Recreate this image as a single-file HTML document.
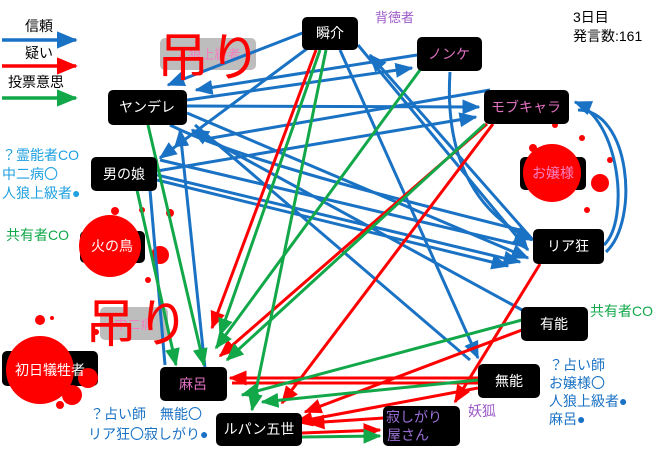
<!DOCTYPE html>
<html><head><meta charset="utf-8"><style>
body{margin:0;width:660px;height:452px;background:#fff;overflow:hidden;font-family:"Liberation Sans","Noto Sans CJK JP",sans-serif}
svg text{font-family:"Liberation Sans","Noto Sans CJK JP",sans-serif}
</style></head><body>
<svg width="660" height="452" viewBox="0 0 660 452" xmlns="http://www.w3.org/2000/svg">
<defs>
<marker id="b" markerWidth="6" markerHeight="5" refX="5.5" refY="2.5" orient="auto" markerUnits="strokeWidth"><path d="M0,0L6,2.5L0,5z" fill="#1a72c4"/></marker>
<marker id="r" markerWidth="6" markerHeight="5" refX="5.5" refY="2.5" orient="auto" markerUnits="strokeWidth"><path d="M0,0L6,2.5L0,5z" fill="#f00"/></marker>
<marker id="g" markerWidth="6" markerHeight="5" refX="5.5" refY="2.5" orient="auto" markerUnits="strokeWidth"><path d="M0,0L6,2.5L0,5z" fill="#12a84a"/></marker>
</defs>
<!-- legend -->
<text x="25" y="31" font-size="14" fill="#000">信頼</text>
<line x1="2" y1="40" x2="76" y2="40" stroke="#1a72c4" stroke-width="3.5" marker-end="url(#b)"/>
<text x="25" y="58" font-size="14" fill="#000">疑い</text>
<line x1="2" y1="66" x2="76" y2="66" stroke="#f00" stroke-width="3.5" marker-end="url(#r)"/>
<text x="8" y="87" font-size="14" fill="#000">投票意思</text>
<line x1="2" y1="98" x2="76" y2="98" stroke="#12a84a" stroke-width="3.5" marker-end="url(#g)"/>
<text x="573" y="22" font-size="14" fill="#000">3日目</text>
<text x="573" y="41" font-size="14" fill="#000">発言数:161</text>
<text x="375" y="22" font-size="13" fill="#9b59c6">背徳者</text>

<!-- hanged boxes -->
<rect x="160" y="38" width="96" height="32" rx="5" fill="#bdbdbd"/>
<text x="208" y="59" font-size="13" fill="#f47ec0" text-anchor="middle">人狼上級者</text>
<rect x="100" y="307" width="68" height="33" rx="5" fill="#bdbdbd"/>
<text x="134" y="329" font-size="13" fill="#f47ec0" text-anchor="middle">中二病</text>

<!-- blood -->
<g fill="#f00">
<circle cx="600" cy="183" r="9"/><circle cx="533" cy="148" r="4"/><circle cx="582" cy="138" r="3"/><circle cx="587" cy="210" r="3"/><circle cx="610" cy="160" r="3"/><circle cx="555" cy="125" r="3"/>
<circle cx="160" cy="255" r="9"/><circle cx="170" cy="213" r="4"/><circle cx="148" cy="280" r="3"/>
<circle cx="40" cy="320" r="5"/><circle cx="52" cy="318" r="2"/><circle cx="96" cy="332" r="3"/><circle cx="60" cy="405" r="4"/>
<circle cx="115" cy="211" r="4"/><circle cx="142" cy="210" r="3"/>
</g>

<g fill="none" stroke-width="3">
<!-- blue -->
<g stroke="#1a72c4">
<line x1="305" y1="32" x2="168" y2="85" marker-end="url(#b)"/>
<line x1="312" y1="45" x2="160" y2="158" marker-end="url(#b)"/>
<line x1="417" y1="55" x2="196" y2="90" marker-end="url(#b)"/>
<line x1="187" y1="106" x2="479" y2="107" marker-end="url(#b)"/>
<line x1="187" y1="100" x2="412" y2="68" marker-end="url(#b)"/>
<line x1="157" y1="171" x2="476" y2="117" marker-end="url(#b)"/>
<line x1="187" y1="113" x2="528" y2="258" marker-end="url(#b)"/>
<line x1="157" y1="175" x2="520" y2="262" marker-end="url(#b)"/>
<line x1="157" y1="180" x2="508" y2="266" marker-end="url(#b)"/>
<line x1="340" y1="50" x2="478" y2="358" marker-end="url(#b)"/>
<line x1="358" y1="45" x2="528" y2="250" marker-end="url(#b)"/>
<line x1="522" y1="310" x2="192" y2="130" marker-end="url(#b)"/>
<line x1="205" y1="368" x2="180" y2="130" marker-end="url(#b)"/>
<line x1="195" y1="125" x2="470" y2="360" />
<line x1="533" y1="240" x2="370" y2="55" marker-end="url(#b)"/>
<line x1="490" y1="90" x2="200" y2="140" />
<line x1="520" y1="245" x2="160" y2="160" />
<line x1="150" y1="190" x2="165" y2="365" />
<path d="M450,72 C445,150 470,210 532,240" marker-end="url(#b)"/>
<path d="M604,245 C630,220 620,120 575,102" marker-end="url(#b)"/>
<path d="M606,252 C640,220 630,110 578,110"/>
<path d="M170,125 C240,160 400,200 520,230"/>
</g>
<!-- red -->
<g stroke="#f00">
<line x1="316" y1="50" x2="212" y2="328" marker-end="url(#r)"/>
<line x1="487" y1="124" x2="220" y2="356" marker-end="url(#r)"/>
<line x1="493" y1="124" x2="282" y2="403" marker-end="url(#r)"/>
<line x1="540" y1="264" x2="455" y2="402" marker-end="url(#r)"/>
<line x1="522" y1="330" x2="305" y2="412" marker-end="url(#r)"/>
<line x1="478" y1="378" x2="230" y2="378" marker-end="url(#r)"/>
<line x1="478" y1="383" x2="232" y2="383" />
<line x1="478" y1="388" x2="296" y2="422" marker-end="url(#r)"/>
<line x1="383" y1="418" x2="308" y2="423" marker-end="url(#r)"/>
<line x1="302" y1="433" x2="380" y2="430" marker-end="url(#r)"/>
</g>
<!-- green -->
<g stroke="#12a84a">
<line x1="326" y1="50" x2="252" y2="410" marker-end="url(#g)"/>
<line x1="320" y1="50" x2="220" y2="335" marker-end="url(#g)"/>
<line x1="420" y1="70" x2="216" y2="348" marker-end="url(#g)"/>
<line x1="485" y1="124" x2="227" y2="360" marker-end="url(#g)"/>
<line x1="148" y1="125" x2="204" y2="365" marker-end="url(#g)"/>
<line x1="137" y1="190" x2="176" y2="365" marker-end="url(#g)"/>
<line x1="522" y1="320" x2="242" y2="395" marker-end="url(#g)"/>
<line x1="478" y1="380" x2="262" y2="402" marker-end="url(#g)"/>
<line x1="302" y1="437" x2="380" y2="436" marker-end="url(#g)"/>
</g>
</g>

<!-- nodes -->
<g font-size="14" text-anchor="middle">
<rect x="302" y="17" width="56" height="33" rx="5" fill="#000"/><text x="330" y="38" fill="#fff">瞬介</text>
<rect x="417" y="37" width="65" height="34" rx="5" fill="#000"/><text x="449" y="59" fill="#e070c0">ノンケ</text>
<rect x="484" y="90" width="85" height="34" rx="5" fill="#000"/><text x="526" y="112" fill="#e070c0">モブキャラ</text>
<rect x="108" y="90" width="79" height="35" rx="5" fill="#000"/><text x="147" y="112" fill="#fff">ヤンデレ</text>
<rect x="91" y="157" width="66" height="34" rx="5" fill="#000"/><text x="124" y="179" fill="#fff">男の娘</text>
<rect x="533" y="229" width="71" height="35" rx="5" fill="#000"/><text x="568" y="251" fill="#fff">リア狂</text>
<rect x="521" y="307" width="67" height="34" rx="5" fill="#000"/><text x="554" y="329" fill="#fff">有能</text>
<rect x="160" y="367" width="67" height="34" rx="5" fill="#000"/><text x="193" y="389" fill="#e070c0">麻呂</text>
<rect x="478" y="364" width="62" height="34" rx="5" fill="#000"/><text x="509" y="386" fill="#fff">無能</text>
<rect x="216" y="413" width="86" height="33" rx="5" fill="#000"/><text x="259" y="434" fill="#fff">ルパン五世</text>
<rect x="383" y="406" width="77" height="40" rx="5" fill="#000"/><text x="414" y="422" fill="#9b6fd6">寂しがり</text><text x="408" y="440" fill="#9b6fd6">屋さん</text>
</g>
<!-- dead nodes -->
<rect x="2" y="351" width="96" height="35" rx="5" fill="#000"/>
<rect x="80" y="231" width="65" height="32" rx="5" fill="#000"/>
<rect x="520" y="157" width="66" height="33" rx="5" fill="#000"/>
<g fill="#f00"><circle cx="40" cy="370" r="34"/><circle cx="88" cy="378" r="10"/><circle cx="110" cy="246" r="31"/><circle cx="552" cy="173" r="29"/><circle cx="72" cy="395" r="10"/></g>
<g font-size="14" text-anchor="middle">
<text x="50" y="375" fill="#fff">初日犠牲者</text>
<text x="112" y="251" fill="#fff">火の鳥</text>
<text x="553" y="178" fill="#f47ec0">お嬢様</text>
</g>
<!-- 吊り -->
<text x="157" y="76" font-size="52" fill="#f00">吊り</text>
<text x="85" y="342" font-size="52" fill="#f00">吊り</text>

<!-- annotations -->
<g font-size="14">
<text x="2" y="160" fill="#1fa0e0">？霊能者CO</text>
<text x="2" y="179" fill="#1fa0e0">中二病〇</text>
<text x="2" y="198" fill="#1fa0e0">人狼上級者●</text>
<text x="6" y="240" fill="#12a84a">共有者CO</text>
<text x="590" y="316" fill="#12a84a">共有者CO</text>
<text x="549" y="370" fill="#1a72c4">？占い師</text>
<text x="549" y="388" fill="#1a72c4">お嬢様〇</text>
<text x="549" y="406" fill="#1a72c4">人狼上級者●</text>
<text x="549" y="424" fill="#1a72c4">麻呂●</text>
<text x="90" y="419" fill="#1a72c4">？占い師　無能〇</text>
<text x="88" y="439" fill="#1a72c4">リア狂〇寂しがり●</text>
<text x="468" y="416" fill="#9b59c6">妖狐</text>
</g>
</svg>
</body></html>
